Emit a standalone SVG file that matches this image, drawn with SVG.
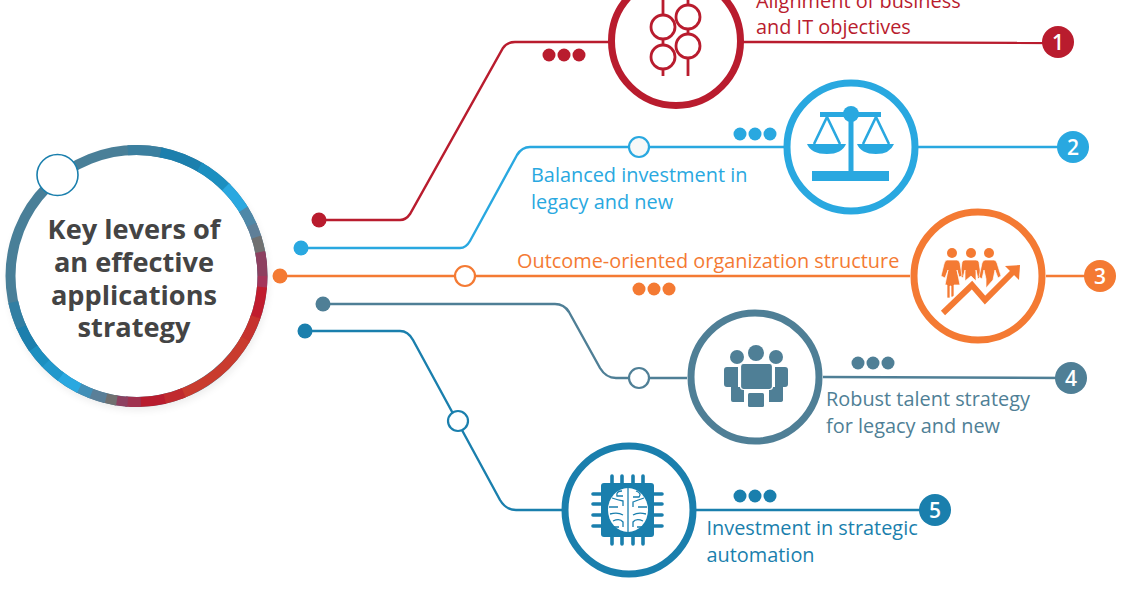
<svg xmlns="http://www.w3.org/2000/svg" width="1130" height="591" viewBox="0 0 1130 591">
<style>
text{font-family:"Open Sans","Noto Sans","Liberation Sans",sans-serif}
.lbl{font-size:19.9px}
.num{font-size:21px;fill:#fff;text-anchor:middle;font-weight:600}
.title{font-size:27.2px;font-weight:700;fill:#444;text-anchor:middle}
.ln{fill:none;stroke-width:2.4}
.ring{fill:#fff;stroke-width:7}
.open{stroke-width:2.2}
.seg{fill:none;stroke-width:10}
.red{stroke:#b91c2e}.fr{fill:#b91c2e}
.blu{stroke:#29a8e0}.fb{fill:#29a8e0}
.org{stroke:#f47a33}.fo{fill:#f47a33}
.sla{stroke:#4f7f96}.fs{fill:#4f7f96}
.dee{stroke:#1a7fad}.fd{fill:#1a7fad}
</style>
<defs>
<filter id="sh" x="-10%" y="-10%" width="120%" height="120%"><feGaussianBlur stdDeviation="4"/></filter>
<filter id="soft" x="-5%" y="-5%" width="110%" height="110%"><feGaussianBlur stdDeviation="0.5"/></filter>
<circle id="s" cx="136.5" cy="276" r="126" pathLength="360"/>
</defs>
<rect width="1130" height="591" fill="#fff"/>
<g id="connectors">
<path class="ln red" d="M319,220H400Q406,220 410,214L503,48Q507,42 515,42H610"/>
<path class="ln red" d="M743,42L1058,43"/>
<path class="ln blu" d="M301,248H460Q466,248 470,241L517,155Q522,147 530,147H784"/>
<path class="ln blu" d="M918,147H1073"/>
<path class="ln org" d="M280,276H910"/>
<path class="ln org" d="M1046,276H1100"/>
<path class="ln sla" d="M323,304H555Q564,304 569,312L600,368Q606,378 616,378H687"/>
<path class="ln sla" d="M823,377L1071,378"/>
<path class="ln dee" d="M305,331H400Q408,331 413,340L500,500Q506,510 516,510H562"/>
<path class="ln dee" d="M696,510H935"/>
<circle cx="319" cy="220" r="7.5" class="fr"/>
<circle cx="301" cy="248" r="7.5" class="fb"/>
<circle cx="280" cy="276" r="7.5" class="fo"/>
<circle cx="323" cy="304" r="7.5" class="fs"/>
<circle cx="305" cy="331" r="7.5" class="fd"/>
<circle cx="639" cy="147" r="10" fill="#f6f8f8" class="open blu"/>
<circle cx="465" cy="276" r="10" fill="#fff" class="open org"/>
<circle cx="639" cy="378" r="10" fill="#fff" class="open sla"/>
<circle cx="458" cy="421" r="10" fill="#fff" class="open dee"/>
</g>
<g id="hub">
<circle cx="138" cy="280" r="130" fill="#000" opacity=".08" filter="url(#sh)"/>
<circle cx="136.5" cy="276" r="126" fill="#fff"/>
<g class="seg" filter="url(#soft)">
<use href="#s" stroke="#4a7f98" stroke-dasharray="360 360"/>
<use href="#s" stroke="#8d4060" stroke-dasharray="10 360" stroke-dashoffset="-350"/>
<use href="#s" stroke="#a5345a" stroke-dasharray="6 360" stroke-dashoffset="0"/>
<use href="#s" stroke="#c01f2e" stroke-dasharray="15 360" stroke-dashoffset="-5"/>
<use href="#s" stroke="#c6302d" stroke-dasharray="12 360" stroke-dashoffset="-19"/>
<use href="#s" stroke="#c93b2d" stroke-dasharray="40 360" stroke-dashoffset="-30"/>
<use href="#s" stroke="#c02a2e" stroke-dasharray="10 360" stroke-dashoffset="-68"/>
<use href="#s" stroke="#b81f2e" stroke-dasharray="12 360" stroke-dashoffset="-77"/>
<use href="#s" stroke="#a03050" stroke-dasharray="7 360" stroke-dashoffset="-88"/>
<use href="#s" stroke="#8d4060" stroke-dasharray="6 360" stroke-dashoffset="-94"/>
<use href="#s" stroke="#707070" stroke-dasharray="6 360" stroke-dashoffset="-99"/>
<use href="#s" stroke="#5a7f98" stroke-dasharray="8 360" stroke-dashoffset="-104"/>
<use href="#s" stroke="#4390b8" stroke-dasharray="7 360" stroke-dashoffset="-111"/>
<use href="#s" stroke="#29a8e0" stroke-dasharray="11 360" stroke-dashoffset="-117"/>
<use href="#s" stroke="#2298cc" stroke-dasharray="10 360" stroke-dashoffset="-127"/>
<use href="#s" stroke="#1f8fc0" stroke-dasharray="10 360" stroke-dashoffset="-136"/>
<use href="#s" stroke="#1a7fad" stroke-dasharray="12 360" stroke-dashoffset="-145"/>
<use href="#s" stroke="#327fa3" stroke-dasharray="12 360" stroke-dashoffset="-156"/>
<use href="#s" stroke="#3a7f9f" stroke-dasharray="16 360" stroke-dashoffset="-266"/>
<use href="#s" stroke="#1a7fad" stroke-dasharray="20 360" stroke-dashoffset="-281"/>
<use href="#s" stroke="#1f8fc0" stroke-dasharray="16 360" stroke-dashoffset="-300"/>
<use href="#s" stroke="#29a8e0" stroke-dasharray="14 360" stroke-dashoffset="-315"/>
<use href="#s" stroke="#4f88a8" stroke-dasharray="9 360" stroke-dashoffset="-328"/>
<use href="#s" stroke="#5f7f98" stroke-dasharray="7 360" stroke-dashoffset="-336"/>
<use href="#s" stroke="#707070" stroke-dasharray="8 360" stroke-dashoffset="-342"/>
<use href="#s" stroke="#8d4060" stroke-dasharray="6 360" stroke-dashoffset="-349"/>
</g>
<circle cx="57.500" cy="175" r="20.500" fill="#fff" stroke="#1a7fad" stroke-width="1.600"/>
<text class="title" x="134" y="238.500">Key levers of</text>
<text class="title" x="134" y="271.500">an effective</text>
<text class="title" x="134" y="304.500">applications</text>
<text class="title" x="134" y="336.500">strategy</text>
</g>
<g id="node-1">
<circle cx="676" cy="41" r="64.500" class="ring red"/>
<g class="red" fill="none" stroke-width="2.800">
<circle cx="663" cy="27" r="12"/><circle cx="663" cy="57" r="12"/>
<circle cx="688" cy="17" r="12"/><circle cx="688" cy="46" r="12"/>
<path d="M663,0V15M663,39V45M663,69V76M688,0V5M688,29V34M688,58V76"/>
</g>
<circle cx="549" cy="55" r="6.500" class="fr"/><circle cx="564" cy="55" r="6.500" class="fr"/><circle cx="579" cy="55" r="6.500" class="fr"/>
<text class="lbl fr" x="756" y="7.500">Alignment of business</text>
<text class="lbl fr" x="756" y="33.500">and IT objectives</text>
<circle cx="1058" cy="42" r="16" class="fr"/><text class="num" x="1058" y="49.500">1</text>
</g>
<g id="node-2">
<circle cx="851" cy="147" r="64" class="ring blu"/>
<g class="fb">
<rect x="820" y="112" width="61" height="5"/><circle cx="851" cy="114" r="8"/>
<rect x="848.500" y="114" width="5" height="58"/><rect x="812" y="171" width="77" height="10"/>
<path d="M807,144H846Q842,154 827,154Q811,154 807,144ZM857,144H894Q890,154 876,154Q861,154 857,144Z"/>
</g>
<path class="blu" fill="none" stroke-width="2.600" d="M814,144L827,117L840,144M863,144L876,117L889,144"/>
<circle cx="740" cy="134" r="6.500" class="fb"/><circle cx="755" cy="134" r="6.500" class="fb"/><circle cx="770" cy="134" r="6.500" class="fb"/>
<text class="lbl fb" x="531" y="182">Balanced investment in</text>
<text class="lbl fb" x="531" y="209">legacy and new</text>
<circle cx="1073" cy="147" r="16" class="fb"/><text class="num" x="1073" y="154.500">2</text>
</g>
<g id="node-3">
<circle cx="978" cy="276" r="64" class="ring org"/>
<g class="fo" stroke="#fff" stroke-width=".7">
<circle cx="952" cy="253" r="5" stroke="none"/><circle cx="971" cy="253" r="5" stroke="none"/><circle cx="989" cy="253" r="5" stroke="none"/>
<path d="M965,260H976Q978,260 979,262L981,276L978,279L976,270V281L971,276L965,281V270L963,278L960,276L962,262Q963,260 965,260Z"/>
<path d="M985,260H994Q996,260 997,263L1001,276L998,278L995,270L993,280L986,288V279L984,270L982,279L979,277L982,263Q983,260 985,260Z"/>
<path d="M947,260H957Q959,260 960,263L962,276L959,277L957,270L960,285H954V297H951V286H950V298H947V285H945L948,270L945,278L941,276L944,264Q945,260 947,260Z"/>
</g>
<path fill="none" stroke="#fff" stroke-width="10" d="M943,313L972,285L985,300L1012,273"/>
<path fill="none" class="org" stroke-width="6" d="M943,313L972,285L985,300L1014,271"/>
<path class="fo" d="M1020,265L1005,266L1019,280Z"/>
<circle cx="639" cy="289" r="6.500" class="fo"/><circle cx="654" cy="289" r="6.500" class="fo"/><circle cx="669" cy="289" r="6.500" class="fo"/>
<text class="lbl fo" x="517" y="267.500">Outcome-oriented organization structure</text>
<circle cx="1100" cy="276" r="16" class="fo"/><text class="num" x="1100" y="283.500">3</text>
</g>
<g id="node-4">
<circle cx="755" cy="377" r="64" class="ring sla"/>
<g class="fs">
<circle cx="737" cy="357" r="7"/><circle cx="756" cy="353" r="8"/><circle cx="776" cy="357" r="7"/>
<path d="M727,367H738V387H744V402H733Q731,402 731,400V387H727Q724,387 724,384V370Q724,367 727,367Z"/>
<path d="M785,367H775V387H769V402H780Q783,402 783,400V387H785Q788,387 788,384V370Q788,367 785,367Z"/>
<rect x="748" y="393" width="16" height="14" rx="1.500"/>
<rect x="740.500" y="363.500" width="32" height="26" rx="3" stroke="#fff" stroke-width="1.200"/>
</g>
<circle cx="858" cy="363" r="6.500" class="fs"/><circle cx="873" cy="363" r="6.500" class="fs"/><circle cx="888" cy="363" r="6.500" class="fs"/>
<text class="lbl fs" x="826" y="406">Robust talent strategy</text>
<text class="lbl fs" x="826" y="433">for legacy and new</text>
<circle cx="1071" cy="378" r="16" class="fs"/><text class="num" x="1071" y="385.500">4</text>
</g>
<g id="node-5">
<circle cx="629" cy="510" r="64" class="ring dee"/>
<rect x="601" y="483" width="53" height="54" rx="3" class="fd"/>
<path class="dee" fill="none" stroke-width="3.600" stroke-linecap="round" d="M612,476V483M622,476V483M633,476V483M643,476V483M612,537V544M622,537V544M633,537V544M643,537V544M593,494H601M593,504H601M593,515H601M593,526H601M654,494H662M654,504H662M654,515H662M654,526H662"/>
<ellipse cx="628" cy="510" rx="20" ry="22" fill="#fff"/>
<path class="dee" fill="none" stroke-width="1.300" d="M628,488V532M622,491Q616,491 617,496H623M636,491Q642,493 639,497H633M612,498Q618,500 623,501V506M644,498Q638,500 633,502V507M609,507H618M647,507H638M610,514Q618,512 623,515M646,514Q638,512 633,515M613,521Q620,518 623,522V527M643,521Q636,518 633,522V527M619,527H614M637,527H642"/>
<circle cx="740" cy="496" r="6.500" class="fd"/><circle cx="755" cy="496" r="6.500" class="fd"/><circle cx="770" cy="496" r="6.500" class="fd"/>
<text class="lbl fd" x="706.500" y="534.500">Investment in strategic</text>
<text class="lbl fd" x="706.500" y="561.500">automation</text>
<circle cx="935" cy="510" r="16" class="fd"/><text class="num" x="935" y="517.500">5</text>
</g>
</svg>
